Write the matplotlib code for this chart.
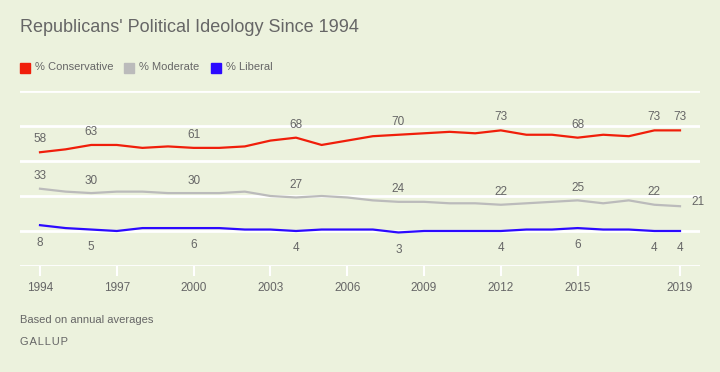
import matplotlib.pyplot as plt
from matplotlib.patches import Rectangle

plt.rcParams['font.family'] = ['Liberation Sans', 'DejaVu Sans']

years = list(range(1994, 2020))
conservative = [58, 60, 63, 63, 61, 62, 61, 61, 62, 66, 68, 63, 66, 69, 70, 71, 72, 71, 73, 70, 70, 68, 70, 69, 73, 73]
moderate = [33, 31, 30, 31, 31, 30, 30, 30, 31, 28, 27, 28, 27, 25, 24, 24, 23, 23, 22, 23, 24, 25, 23, 25, 22, 21]
liberal = [8, 6, 5, 4, 6, 6, 6, 6, 5, 5, 4, 5, 5, 5, 3, 4, 4, 4, 4, 5, 5, 6, 5, 5, 4, 4]
label_years = [1994, 1996, 2000, 2004, 2008, 2012, 2015, 2018, 2019]
tick_years = [1994, 1997, 2000, 2003, 2006, 2009, 2012, 2015, 2019]

bg = '#ecf2dd'
txt = '#666666'
red = '#f01e0a'
gray = '#bbbbbb'
blue = '#2c0aff'

W, H = 720, 372
fig = plt.figure(figsize=(W / 100, H / 100), dpi=100, facecolor=bg)
ax = fig.add_axes([20 / W, 1 - 266 / H, 680 / W, 175 / H])
ax.set_facecolor(bg)

ax.set_xlim(1994 - 20 / 25.6, 2019 + 20 / 25.6)
ax.set_ylim(-20, 100)
ax.set_yticks(range(-20, 101, 24))
ax.yaxis.grid(True, color='white', linewidth=2)
ax.set_axisbelow(True)
ax.tick_params(axis='y', left=False, labelleft=False)
for s in ax.spines.values():
    s.set_visible(False)

ax.set_xticks(tick_years)
ax.set_xticklabels([str(y) for y in tick_years])
ax.tick_params(axis='x', direction='out', length=7.5, width=1.5, color='white',
               labelcolor=txt, labelsize=8.5, pad=4)

ax.plot(years, conservative, color=red, lw=1.6, clip_on=False)
ax.plot(years, moderate, color=gray, lw=1.6, clip_on=False)
ax.plot(years, liberal, color=blue, lw=1.6, clip_on=False)

for y in label_years:
    i = years.index(y)
    ax.annotate(str(conservative[i]), (y, conservative[i]), xytext=(0, 9.3),
                textcoords='offset points', ha='center', va='center', fontsize=8.5, color=txt)
    if y == 2019:
        ax.annotate(str(moderate[i]), (y, moderate[i]), xytext=(8.4, 2.8),
                    textcoords='offset points', ha='left', va='center', fontsize=8.5, color=txt)
    else:
        ax.annotate(str(moderate[i]), (y, moderate[i]), xytext=(0, 9),
                    textcoords='offset points', ha='center', va='center', fontsize=8.5, color=txt)
    ax.annotate(str(liberal[i]), (y, liberal[i]), xytext=(0, -12.5),
                textcoords='offset points', ha='center', va='center', fontsize=8.5, color=txt)

fig.text(20 / W, 1 - 27 / H, "Republicans' Political Ideology Since 1994",
         fontsize=13, color=txt, va='center', ha='left')

legend = [('% Conservative', red, 20), ('% Moderate', gray, 124), ('% Liberal', blue, 211)]
for name, c, x0 in legend:
    fig.patches.append(Rectangle((x0 / W, 1 - 73 / H), 10 / W, 10 / H,
                                 transform=fig.transFigure, color=c))
    fig.text((x0 + 15) / W, 1 - 67.5 / H, name, fontsize=8, color=txt, va='center', ha='left')

fig.text(20 / W, 1 - 320 / H, 'Based on annual averages', fontsize=8, color=txt, va='center')
fig.text(20 / W, 1 - 342 / H, '\u200a'.join('GALLUP'), fontsize=8, color=txt, va='center')

fig.savefig('out.png', dpi=100, facecolor=bg)
